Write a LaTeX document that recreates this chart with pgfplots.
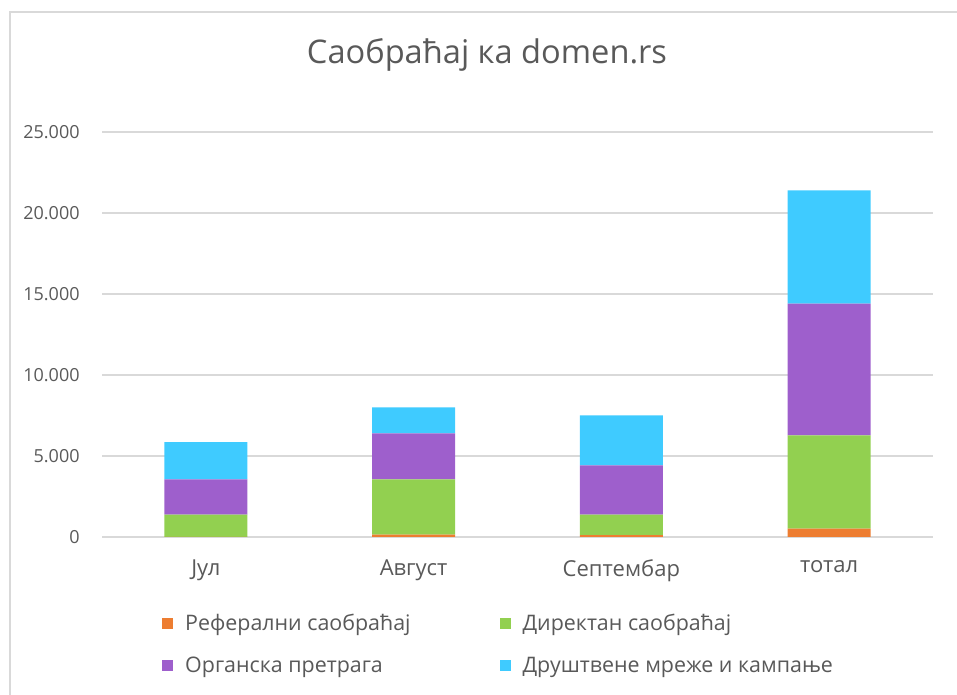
\documentclass[border=0pt]{standalone}
\usepackage{pgfplots}
\pgfplotsset{compat=1.18}
\usepackage{fontspec}
\setmainfont{Open Sans}
\definecolor{ref}{HTML}{ED7D31}
\definecolor{dir}{HTML}{92D050}
\definecolor{org}{HTML}{9E5FCC}
\definecolor{soc}{HTML}{3FCBFF}
\definecolor{txt}{HTML}{595959}
\definecolor{gridc}{HTML}{D9D9D9}
\begin{document}
\begin{tikzpicture}[x=1pt,y=1pt]
\useasboundingbox (0,0) rectangle (478.5,347.5);
\draw[gridc, line width=0.6pt] (5,-2) -- (5,341.5) -- (481,341.5);
\node[txt, font=\fontsize{16.3}{19}\selectfont] at (243.5,320) {Саобраћај ка domen.rs};
\begin{axis}[
  at={(51pt,79pt)}, anchor=south west,
  scale only axis,
  width=415.5pt, height=202.5pt,
  ybar stacked,
  bar width=41.5pt,
  xmin=-0.5, xmax=3.5,
  ymin=0, ymax=25000,
  ytick={0,5000,10000,15000,20000,25000},
  xtick=data,
  xticklabels={Јул,Август,Септембар,тотал},
  major tick length=0pt,
  ymajorgrids,
  grid style={gridc, line width=0.6pt},
  axis x line*=bottom,
  axis y line*=left,
  x axis line style={gridc, line width=0.6pt},
  y axis line style={draw=none},
  scaled y ticks=false,
  /pgf/number format/.cd, 1000 sep={.}, assume math mode=true, /pgfplots/.cd,
  yticklabel style={txt, font=\fontsize{9}{11}\selectfont, anchor=east, inner sep=0pt, xshift=-11pt},
  xticklabel style={txt, font=\fontsize{11}{13}\selectfont, yshift=-8pt},
  legend columns=2,
  legend cell align=left,
  legend style={draw=none, at={(0.072,-0.18)}, anchor=north west,
    inner sep=0pt, font=\fontsize{10.7}{12.5}\selectfont, text=txt,
    /tikz/every odd column/.append style={column sep=4pt},
    /tikz/column 2/.style={column sep=42.5pt},
    /tikz/row sep=7.5pt},
  legend image code/.code={\fill[#1,draw=none] (0pt,-2.75pt) rectangle (5.5pt,2.75pt);},
  every axis plot/.append style={draw=none},
]
\addplot[fill=ref] coordinates {(0,10) (1,148) (2,123) (3,518)};
\addplot[fill=dir] coordinates {(0,1367) (1,3414) (2,1254) (3,5760)};
\addplot[fill=org] coordinates {(0,2185) (1,2839) (2,3049) (3,8129)};
\addplot[fill=soc] coordinates {(0,2302) (1,1605) (2,3086) (3,6993)};
\legend{Реферални саобраћај,Директан саобраћај,Органска претрага,Друштвене мреже и кампање}
\end{axis}
\end{tikzpicture}
\end{document}
